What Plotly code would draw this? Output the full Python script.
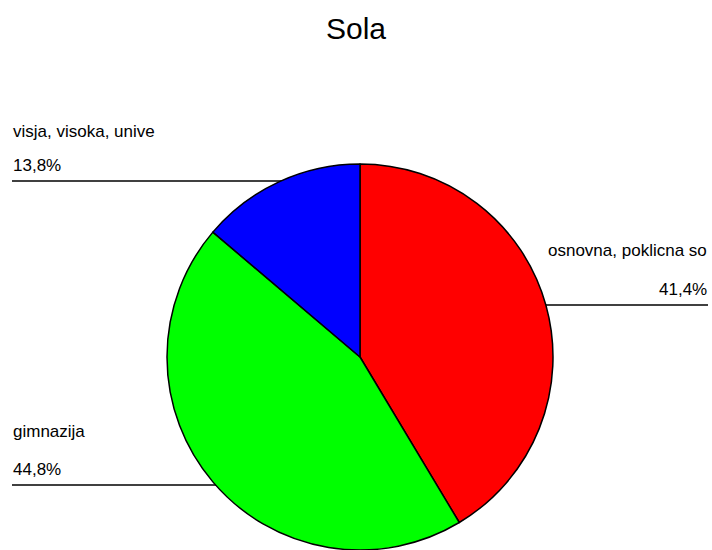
import plotly.graph_objects as go

# ── data ────────────────────────────────────────────────────────────────
labels = ["osnovna, poklicna so", "gimnazija", "visja, visoka, unive"]
values = [41.4, 44.8, 13.8]
colors = ["#ff0000", "#00ff00", "#0000ff"]

W, H = 712, 550
FONT = "Liberation Sans, Arial, sans-serif"


def px(x):
    return x / W


def py(y):
    return 1 - y / H


def pct(v):
    return f"{v:.1f}%".replace(".", ",")


fig = go.Figure()
fig.add_trace(go.Pie(
    labels=labels, values=values, sort=False, direction="clockwise", rotation=0,
    marker=dict(colors=colors, line=dict(color="black", width=1.5)),
    textinfo="none", hoverinfo="label+percent", showlegend=False,
    domain=dict(x=[px(165), px(555)], y=[0, py(164)]),
))

# label placement: (name-y, pct-y, line-y, side, line x-range)
place = [
    (251, 289, 305, "right", (360, 708)),
    (431, 469, 485, "left", (12, 360)),
    (131, 166, 181, "left", (12, 360)),
]

annotations = []
shapes = []
for lab, val, (yn, yp, yl, side, (lx0, lx1)) in zip(labels, values, place):
    xa = px(11) if side == "left" else px(709)
    for txt, yy in ((lab, yn), (pct(val), yp)):
        annotations.append(dict(
            x=xa, y=py(yy), xref="paper", yref="paper", text=txt, showarrow=False,
            xanchor=side, yanchor="middle", font=dict(family=FONT, size=17, color="black"),
        ))
    shapes.append(dict(
        type="line", xref="paper", yref="paper", x0=px(lx0), x1=px(lx1),
        y0=py(yl), y1=py(yl), line=dict(color="black", width=1.5), layer="below",
    ))

fig.update_layout(
    width=W, height=H,
    title=dict(text="Sola", x=px(356), xanchor="center", y=py(28), yanchor="middle",
               font=dict(family=FONT, size=30, color="black")),
    margin=dict(l=0, r=0, t=0, b=0),
    paper_bgcolor="white", plot_bgcolor="white",
    annotations=annotations, shapes=shapes,
)

fig.write_html("out.html", config={"displayModeBar": False},
               post_script="document.body.style.margin='0';")
